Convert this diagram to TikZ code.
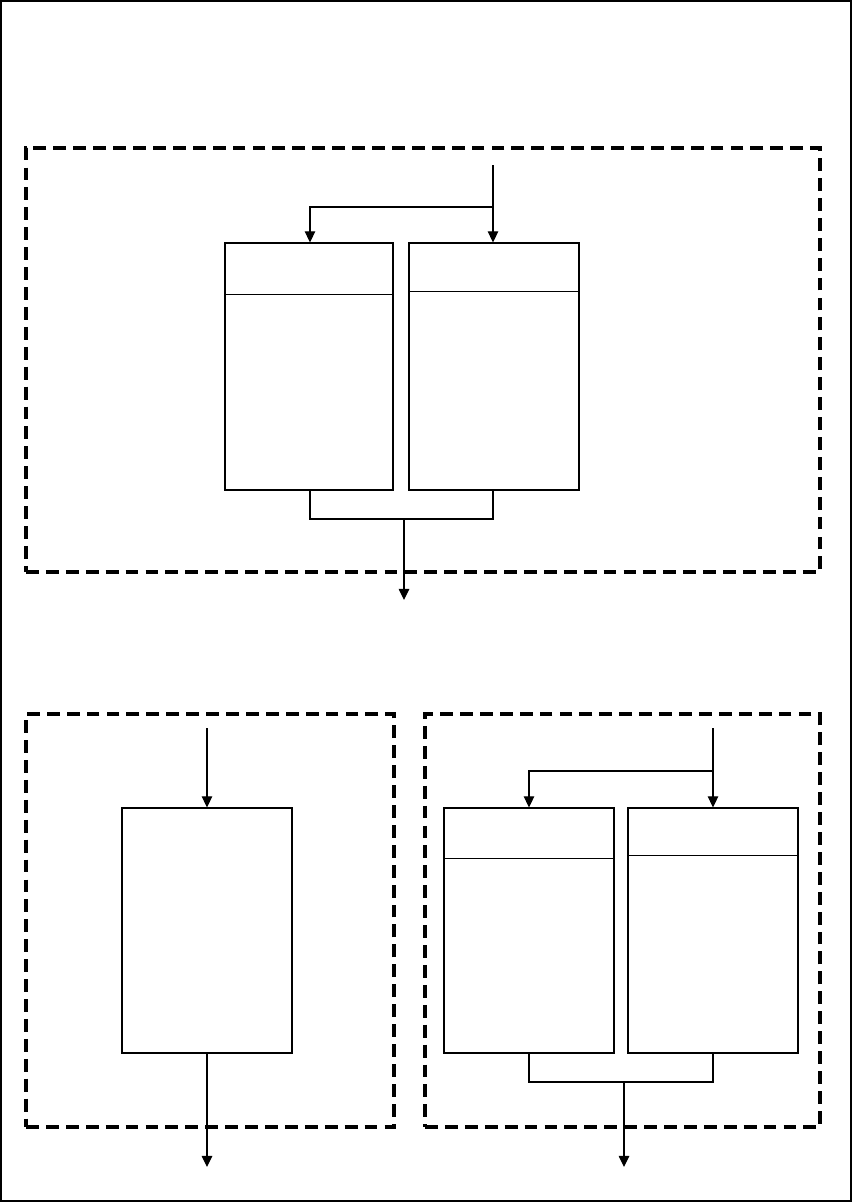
\documentclass[tikz,border=0pt]{standalone}
\usepackage{tikz}
\usetikzlibrary{arrows.meta,positioning,fit}

\begin{document}
\begin{tikzpicture}[
  x=0.03cm, y=-0.03cm,
  procbox/.style={rectangle, draw=black, line width=1pt, fill=white,
                  inner sep=0pt},
  grpbox/.style={rectangle, draw=black, line width=3pt, inner sep=0pt,
                 dash pattern=on 11pt off 6pt},
  divline/.style={line width=1pt},
  conn/.style={line width=1pt},
  arr/.style={-{Triangle[length=9.5pt,width=9pt]}, line width=1pt},
]
\useasboundingbox (0,0) rectangle (852,1202);

%% Outer frame
\draw[line width=1.5pt] (1,1) rectangle (851,1201);

%% Top group
\node[grpbox, fit={(26,148) (820,572)}] (gtop) {};
\node[procbox, fit={(225,243) (393,490)}] (ta) {};
\node[procbox, fit={(409,243) (579,490)}] (tb) {};
\draw[divline] ([yshift=-52*0.03cm]ta.north west) -- ([yshift=-52*0.03cm]ta.north east);
\draw[divline] ([yshift=-49*0.03cm]tb.north west) -- ([yshift=-49*0.03cm]tb.north east);

\coordinate (tin) at (493,165);
\coordinate (tsplit) at (493,207);
\draw[conn] (tin) -- (tsplit);
\draw[arr] (tsplit) -- (tsplit |- tb.north);
\draw[arr] (tsplit) -| ([xshift=1*0.03cm]ta.north);

\coordinate (tjoin) at (404,519);
\coordinate (tout) at (404,600);
\draw[conn] ([xshift=1*0.03cm]ta.south) |- (tjoin) -| ([xshift=-1*0.03cm]tb.south);
\draw[arr] (tjoin) -- (tout);

%% Bottom left group
\node[grpbox, fit={(26,714) (394,1127)}] (gleft) {};
\node[procbox, fit={(122,808) (292,1053)}] (lc) {};
\coordinate (lin) at (207,728);
\coordinate (lout) at (207,1167);
\draw[arr] (lin) -- (lin |- lc.north);
\draw[arr] (lc.south) -- (lout);

%% Bottom right group
\node[grpbox, fit={(425,714) (820,1127)}] (gright) {};
\node[procbox, fit={(444,808) (614,1053)}] (rd) {};
\node[procbox, fit={(628,808) (798,1053)}] (re) {};
\draw[divline] ([yshift=-51*0.03cm]rd.north west) -- ([yshift=-51*0.03cm]rd.north east);
\draw[divline] ([yshift=-48*0.03cm]re.north west) -- ([yshift=-48*0.03cm]re.north east);

\coordinate (rin) at (713,728);
\coordinate (rsplit) at (713,771);
\draw[conn] (rin) -- (rsplit);
\draw[arr] (rsplit) -- (rsplit |- re.north);
\draw[arr] (rsplit) -| (rd.north);

\coordinate (rjoin) at (624,1082);
\coordinate (rout) at (624,1167);
\draw[conn] (rd.south) |- (rjoin) -| (re.south);
\draw[arr] (rjoin) -- (rout);

\end{tikzpicture}
\end{document}
